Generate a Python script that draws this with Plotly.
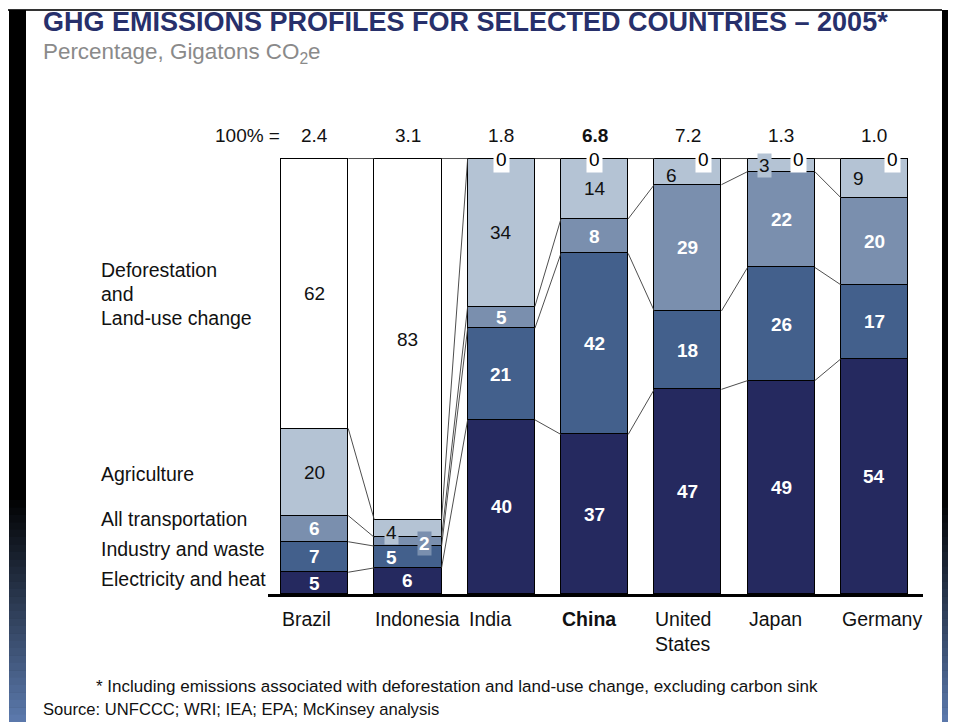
import plotly.graph_objects as go

# Data (percent shares, 2005)
countries = ["Brazil", "Indonesia", "India", "China", "United States", "Japan", "Germany"]
country_labels = ["Brazil", "Indonesia", "India", "<b>China</b>", "United<br>States", "Japan", "Germany"]
totals_gt = ["2.4", "3.1", "1.8", "<b>6.8</b>", "7.2", "1.3", "1.0"]

electricity = [5, 6, 40, 37, 47, 49, 54]
industry = [7, 5, 21, 42, 18, 26, 17]
transport = [6, 2, 5, 8, 29, 22, 20]
agriculture = [20, 4, 34, 14, 6, 3, 9]
deforestation = [62, 83, 0, 0, 0, 0, 0]

sector_names = ["Electricity and heat", "Industry and waste", "All transportation",
                "Agriculture", "Deforestation and Land-use change"]
sector_values = [electricity, industry, transport, agriculture, deforestation]

COLORS = ["#25295f", "#43608c", "#7a8fae", "#b4c3d4", "#ffffff"]
TEXT_WHITE = [True, True, True, False, False]

FONT = "Liberation Sans, Arial, Helvetica, sans-serif"
# page body has an 8px margin, so the figure sits at (8, 8) in the window
OFF = 8
W, H = 948, 714
L, R, T, B = 260, 33, 144, 128
BAR_W = 0.72


def px(x):
    # window pixel -> paper x
    return (x - OFF - L) / (W - L - R)


def py(y):
    # window pixel -> paper y
    return (H - B - (y - OFF)) / (H - T - B)


# label tweaks for small segments: (country index, sector index) -> (xshift, yshift, bg)
label_tweaks = {
    (1, 3): (-16, -4, COLORS[3]),
    (1, 2): (17, -2, COLORS[2]),
    (1, 1): (-16, -1, None),
    (4, 3): (-16, -4, None),
    (5, 3): (-17, 0, COLORS[3]),
    (6, 3): (-16, 0, None),
}
zero_top_shift = {2: 0, 3: 0, 4: 16, 5: 17, 6: 18}

n = len(countries)
xs = list(range(n))
totals = [sum(sv[i] for sv in sector_values) for i in range(n)]
shares = [[v / totals[i] * 100 for i, v in enumerate(sv)] for sv in sector_values]

fig = go.Figure()

for s, name in enumerate(sector_names):
    fig.add_trace(go.Bar(
        x=xs, y=shares[s], width=BAR_W, name=name,
        marker=dict(color=COLORS[s], line=dict(color="black", width=1.3)),
        hoverinfo="skip", showlegend=False
    ))

# connector lines between neighbouring bars
cum = []
for i in range(n):
    c, levels = 0, []
    for s in range(len(sector_names)):
        c += shares[s][i]
        levels.append(c)
    cum.append(levels)

lx, ly = [], []
for i in range(n - 1):
    for k in range(len(sector_names)):
        lx += [i + BAR_W / 2, i + 1 - BAR_W / 2, None]
        ly += [cum[i][k], cum[i + 1][k], None]
fig.add_trace(go.Scatter(x=lx, y=ly, mode="lines", line=dict(color="#3a3a3a", width=0.9),
                         hoverinfo="skip", showlegend=False))

annotations = []

# segment value labels
for i in range(n):
    base = 0
    for s in range(len(sector_names)):
        v = sector_values[s][i]
        h = shares[s][i]
        white = TEXT_WHITE[s]
        if v == 0:
            annotations.append(dict(
                x=i, y=100, xref="x", yref="y", text="0", showarrow=False,
                xanchor="center", yanchor="middle",
                xshift=zero_top_shift.get(i, 0), yshift=-1,
                font=dict(family=FONT, size=19, color="black"),
                bgcolor="white", borderpad=2))
        else:
            xs_, ys_, bg = label_tweaks.get((i, s), (0, 0, None))
            txt = f"<b>{v}</b>" if white else str(v)
            a = dict(x=i, y=base + h / 2, xref="x", yref="y", text=txt, showarrow=False,
                     xanchor="center", yanchor="middle", xshift=xs_, yshift=ys_,
                     font=dict(family=FONT, size=19, color="white" if white else "#111111"))
            if bg:
                a["bgcolor"] = bg
                a["borderpad"] = 1
            annotations.append(a)
        base += h

# 100% = totals
annotations.append(dict(x=px(282), y=py(136), xref="paper", yref="paper", text="100% =",
                        xanchor="right", yanchor="middle", showarrow=False,
                        font=dict(family=FONT, size=19, color="#111111")))
for i in range(n):
    annotations.append(dict(x=i, y=py(136), xref="x", yref="paper", text=totals_gt[i],
                            xanchor="center", yanchor="middle", showarrow=False,
                            font=dict(family=FONT, size=19, color="#111111")))

# country labels, left-aligned with bar edges
for i in range(n):
    annotations.append(dict(x=i - BAR_W / 2, y=py(606), xref="x", yref="paper",
                            text=country_labels[i], xanchor="left", yanchor="top",
                            align="left", showarrow=False, xshift=-1,
                            font=dict(family=FONT, size=19.5, color="#111111")))

# sector legend on the left
left_labels = [("Deforestation", 270), ("and", 294), ("Land-use change", 318),
               ("Agriculture", 474), ("All transportation", 519),
               ("Industry and waste", 549), ("Electricity and heat", 579)]
for txt, yy in left_labels:
    annotations.append(dict(x=px(99), y=py(yy), xref="paper", yref="paper", text=txt,
                            xanchor="left", yanchor="middle", showarrow=False,
                            font=dict(family=FONT, size=19.5, color="#111111")))

# title, subtitle, notes
annotations += [
    dict(x=px(41), y=py(22.5), xref="paper", yref="paper", xanchor="left", yanchor="middle",
         showarrow=False,
         text="<b>GHG EMISSIONS PROFILES FOR SELECTED COUNTRIES – 2005*</b>",
         font=dict(family=FONT, size=27, color="#27306b")),
    dict(x=px(41), y=py(53), xref="paper", yref="paper", xanchor="left", yanchor="middle",
         showarrow=False, text="Percentage, Gigatons CO<sub>2</sub>e",
         font=dict(family=FONT, size=22.4, color="#8a8a8a")),
    dict(x=px(94), y=py(686), xref="paper", yref="paper", xanchor="left", yanchor="middle",
         showarrow=False,
         text="* Including emissions associated with deforestation and land-use change, excluding carbon sink",
         font=dict(family=FONT, size=17.05, color="#111111")),
    dict(x=px(41), y=py(709), xref="paper", yref="paper", xanchor="left", yanchor="middle",
         showarrow=False, text="Source: UNFCCC; WRI; IEA; EPA; McKinsey analysis",
         font=dict(family=FONT, size=16.6, color="#111111")),
]

# slide frame
shapes = [
    dict(type="rect", xref="paper", yref="paper", x0=px(7), x1=px(942), y0=py(9), y1=py(11),
         fillcolor="#333333", line_width=0),
    dict(type="rect", xref="paper", yref="paper", x0=px(9), x1=px(26), y0=py(10), y1=py(722),
         fillcolor="black", line_width=0),
    dict(type="rect", xref="paper", yref="paper", x0=px(942), x1=px(956), y0=py(10), y1=py(722),
         fillcolor="black", line_width=0),
]
steps = 30
g0, g1 = 500, 722
end = (91, 120, 171)
for k in range(steps):
    t = (k + 1) / steps
    col = "rgb(%d,%d,%d)" % tuple(int(c * t) for c in end)
    y0 = g0 + (g1 - g0) * k / steps
    y1 = g0 + (g1 - g0) * (k + 1) / steps + 0.5
    for xa, xb in [(9, 26), (942, 956)]:
        shapes.append(dict(type="rect", xref="paper", yref="paper", x0=px(xa), x1=px(xb),
                           y0=py(y0), y1=py(y1), fillcolor=col, line_width=0))

fig.update_layout(
    width=W, height=H,
    barmode="stack", bargap=0,
    margin=dict(l=L, r=R, t=T, b=B, autoexpand=False),
    paper_bgcolor="white", plot_bgcolor="white",
    xaxis=dict(range=[-0.5, 6.52], showline=True, linecolor="black", linewidth=2.5,
               showticklabels=False, ticks="", showgrid=False, zeroline=False, fixedrange=True),
    yaxis=dict(range=[0, 101.5], visible=False, fixedrange=True),
    annotations=annotations,
    shapes=shapes,
    font=dict(family=FONT),
)

fig.write_html("out.html")
